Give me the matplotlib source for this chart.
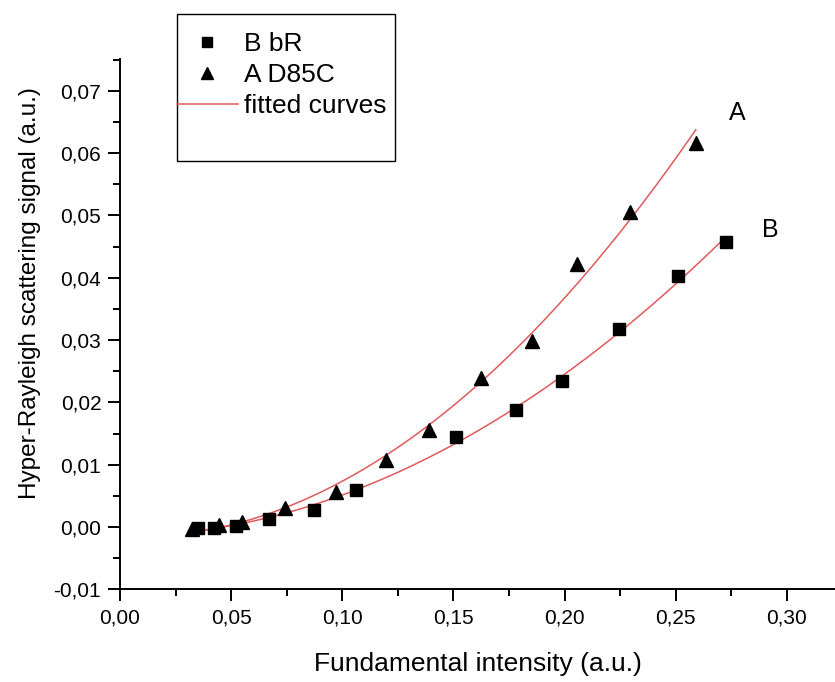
import numpy as np
import matplotlib
matplotlib.use("Agg")
import matplotlib.pyplot as plt
from matplotlib.lines import Line2D
from matplotlib.patches import Rectangle
from matplotlib.ticker import MultipleLocator, FuncFormatter

plt.rcParams['font.family'] = ['Liberation Sans', 'DejaVu Sans']

# B: bacteriorhodopsin (bR)
x_bR = [0.0352, 0.0423, 0.0522, 0.0672, 0.0874, 0.1060, 0.1511, 0.1780,
        0.1987, 0.2245, 0.2509, 0.2726]
y_bR = [-0.0001, -0.0001, 0.0002, 0.0013, 0.0028, 0.0060, 0.0144, 0.0187,
        0.0235, 0.0318, 0.0403, 0.0457]

# A: D85C mutant
x_D85C = [0.0323, 0.0447, 0.0547, 0.0742, 0.0970, 0.1195, 0.1390, 0.1623,
          0.1852, 0.2054, 0.2294, 0.2590]
y_D85C = [-0.0003, 0.0003, 0.0008, 0.0030, 0.0056, 0.0108, 0.0155, 0.0239,
          0.0299, 0.0422, 0.0505, 0.0617]

legend_labels = ["B bR", "A D85C", "fitted curves"]
curve_labels = ["A", "B"]

fig = plt.figure(figsize=(8.35, 6.82), dpi=100)
ax = fig.add_axes([120 / 835, (682 - 589.3) / 682, 715 / 835, (589.3 - 59) / 682])

red = "#e05a5a"

# quadratic fits to each data set
for xs, ys in ((x_D85C, y_D85C), (x_bR, y_bR)):
    xs = np.asarray(xs)
    ys = np.asarray(ys)
    coef = np.polyfit(xs, ys, 2)
    xf = np.linspace(xs.min(), xs.max(), 200)
    ax.plot(xf, np.polyval(coef, xf), color=red, lw=1.1, zorder=2)

ax.plot(x_bR, y_bR, ls='none', marker='s', ms=8, color='black', zorder=3)
ax.plot(x_D85C, y_D85C, ls='none', marker='^', ms=10, color='black', zorder=3)

ax.text(0.2775, 0.0665, curve_labels[0], fontsize=18, ha='center', va='center')
ax.text(0.2924, 0.0476, curve_labels[1], fontsize=18, ha='center', va='center')

ax.set_xlim(0, 0.3216)
ax.set_ylim(-0.01, 0.0751)

ax.xaxis.set_major_locator(MultipleLocator(0.05))
ax.xaxis.set_minor_locator(MultipleLocator(0.025))
ax.yaxis.set_major_locator(MultipleLocator(0.01))
ax.yaxis.set_minor_locator(MultipleLocator(0.005))

comma = FuncFormatter(lambda v, p: f"{v:.2f}".replace('.', ',').replace('-0,00', '0,00'))
ax.xaxis.set_major_formatter(comma)
ax.yaxis.set_major_formatter(comma)

for s in ('top', 'right'):
    ax.spines[s].set_visible(False)
for s in ('left', 'bottom'):
    ax.spines[s].set_linewidth(1.4)

ax.tick_params(which='major', direction='out', length=8.5, width=1.4,
               labelsize=15, pad=5)
ax.tick_params(which='minor', direction='out', length=5, width=1.4)

ax.set_xlabel("Fundamental intensity (a.u.)", fontsize=19, labelpad=18)
ax.set_ylabel("Hyper-Rayleigh scattering signal (a.u.)", fontsize=17.5)
ax.yaxis.set_label_coords(-0.111, 0.559)

# legend box
fig.patches.append(Rectangle((177 / 835, (682 - 160.5) / 682), (395 - 177) / 835,
                             (160.5 - 14) / 682, transform=fig.transFigure,
                             fill=False, edgecolor='black', lw=1.0))
handles = [
    Line2D([], [], ls='none', marker='s', ms=7, color='black'),
    Line2D([], [], ls='none', marker='^', ms=9, color='black'),
    Line2D([], [], color=red, lw=1.1),
]
fig.legend(handles, legend_labels, loc='upper left',
           bbox_to_anchor=(177 / 835, (682 - 32) / 682), frameon=False,
           fontsize=19, handlelength=2.3, handletextpad=0.25,
           borderpad=0, borderaxespad=0, labelspacing=0.27)

fig.savefig("out.png", dpi=100)
